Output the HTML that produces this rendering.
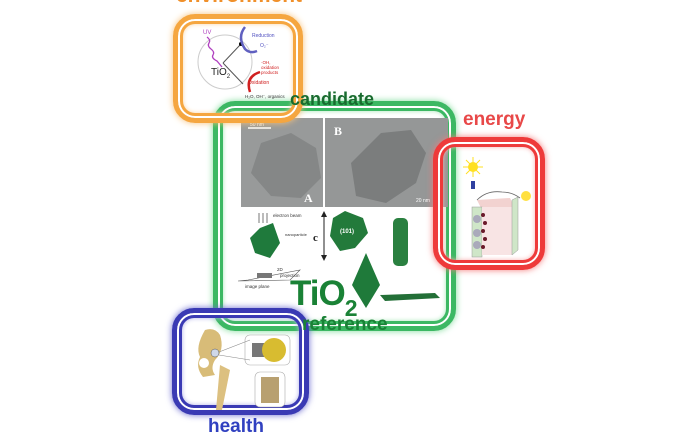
<!DOCTYPE html>
<html><head><style>
body{margin:0;width:700px;height:430px;background:#fff;position:relative;overflow:hidden;font-family:"Liberation Sans",sans-serif}
.b{position:absolute;border-radius:22px;box-sizing:border-box}
.lbl{position:absolute;font-weight:bold;white-space:nowrap}
.g{position:absolute}
</style></head><body>

<!-- green box -->
<div class="b" style="left:213px;top:101px;width:243px;height:230px;border:5px solid #3cb863;box-shadow:0 0 7px #7fdc9a,inset 0 0 0 2px #fff,inset 0 0 0 5px #3cb863,inset 0 0 5px 5px #a8e6b8"></div>

<!-- TEM images -->
<div class="g" style="left:241px;top:118px;width:82px;height:89px;background:#989a9a"></div>
<div class="g" style="left:325px;top:118px;width:123px;height:89px;background:#959797"></div>
<svg class="g" style="left:241px;top:118px" width="207" height="89">
<polygon points="20,25 50,15 75,30 80,60 60,80 30,78 10,55" fill="#858787"/>
<polygon points="110,45 140,15 170,12 185,35 175,65 145,85 115,78" fill="#7b7d7d"/>
<line x1="7" y1="10" x2="30" y2="10" stroke="#fff" stroke-width="1.5"/>
<text x="9" y="8" font-size="5" fill="#fff">50 nm</text>
<text x="93" y="17" font-size="12" fill="#fff" font-family="Liberation Serif" font-weight="bold">B</text>
<text x="63" y="84" font-size="12" fill="#fff" font-family="Liberation Serif" font-weight="bold">A</text>
<text x="175" y="84" font-size="5" fill="#fff">20 nm</text>
</svg>

<!-- lower crystal diagram -->
<svg class="g" style="left:235px;top:208px" width="215" height="100">
<g stroke="#555" stroke-width="0.8"><line x1="24" y1="5" x2="24" y2="15"/><line x1="28" y1="5" x2="28" y2="15"/><line x1="32" y1="5" x2="32" y2="15"/></g>
<text x="38" y="9" font-size="4.5" fill="#333">electron beam</text>
<polygon points="25,20 38,15 45,35 35,50 20,45 15,30" fill="#1f7a3c"/>
<text x="50" y="28" font-size="4" fill="#333">nanoparticle</text>
<text x="78" y="33" font-size="11" font-weight="bold" font-family="Liberation Serif" fill="#222">c</text>
<line x1="89" y1="5" x2="89" y2="50" stroke="#222" stroke-width="1"/>
<polygon points="89,3 86,9 92,9" fill="#222"/><polygon points="89,53 86,47 92,47" fill="#222"/>
<polygon points="98,10 110,3 128,10 133,25 120,40 105,43 95,28" fill="#237a3b"/>
<text x="105" y="25" font-size="6" fill="#fff" font-weight="bold">(101)</text>
<polygon points="131,45 145,77 131,100 117,77" fill="#1f7a3a"/>
<rect x="158" y="10" width="15" height="48" rx="5" fill="#2a8040"/>
<polygon points="145,87 200,85 205,90 150,93" fill="#236f37"/>
<polygon points="13,72 65,62 55,72 3,73" fill="none" stroke="#555" stroke-width="0.6"/>
<rect x="22" y="65" width="15" height="5" fill="#777"/>
<text x="42" y="63" font-size="4.5" fill="#333">2D</text>
<text x="45" y="69" font-size="4.5" fill="#333">projection</text>
<text x="10" y="80" font-size="4.5" fill="#333">image plane</text>
</svg>

<!-- orange box -->
<div class="b" style="left:173px;top:14px;width:130px;height:109px;border:5px solid #f5a640;box-shadow:0 0 7px #f8c27a,inset 0 0 0 2px #fff,inset 0 0 0 5px #f5a640,inset 0 0 5px 5px #fbd7a8"></div>
<svg class="g" style="left:185px;top:22px" width="115" height="80">
<circle cx="40" cy="40" r="27" fill="none" stroke="#ccc" stroke-width="1"/>
<text x="18" y="12" font-size="6" fill="#b040c0">UV</text>
<path d="M22,15 q4,3 2,6 q-2,3 2,6 q4,3 2,6 q-2,3 4,6 l5,6" fill="none" stroke="#b040c0" stroke-width="1.3"/>
<line x1="38" y1="41" x2="55" y2="23" stroke="#555" stroke-width="1"/>
<line x1="38" y1="41" x2="58" y2="62" stroke="#555" stroke-width="1"/>
<circle cx="56" cy="22" r="2" fill="#000"/>
<path d="M60,5 q-8,10 0,22 q5,5 12,2" fill="none" stroke="#6060c0" stroke-width="2.5"/>
<text x="67" y="15" font-size="5" fill="#5050c0">Reduction</text>
<text x="75" y="25" font-size="5" fill="#5050c0">O₂⁻</text>
<text x="26" y="53" font-size="10" fill="#222">TiO<tspan font-size="6" dy="3">2</tspan></text>
<path d="M75,50 q-15,5 -10,20" fill="none" stroke="#d02020" stroke-width="2.5"/>
<text x="76" y="42" font-size="4.5" fill="#d02020">·OH,</text>
<text x="76" y="47" font-size="4.5" fill="#d02020">oxidation</text>
<text x="76" y="52" font-size="4.5" fill="#d02020">products</text>
<text x="63" y="62" font-size="5" fill="#d02020">Oxidation</text>
<text x="60" y="76" font-size="4.5" fill="#333">H₂O, OH⁻, organics</text>
</svg>
<div class="lbl" style="left:176px;top:-16px;font-size:21px;color:#f0902a">environment</div>

<!-- red box -->
<div class="b" style="left:433px;top:137px;width:112px;height:133px;border:5px solid #ee3a3a;box-shadow:0 0 7px #f47a7a,inset 0 0 0 2px #fff,inset 0 0 0 5px #ee3a3a,inset 0 0 5px 5px #f8b0b0"></div>
<svg class="g" style="left:455px;top:155px" width="80" height="105">
<circle cx="18" cy="12" r="5" fill="#ffe020"/>
<g stroke="#ffe020" stroke-width="1"><line x1="18" y1="2" x2="18" y2="22"/><line x1="8" y1="12" x2="28" y2="12"/><line x1="11" y1="5" x2="25" y2="19"/><line x1="25" y1="5" x2="11" y2="19"/></g>
<rect x="16" y="26" width="4" height="8" fill="#3040a0"/>
<polygon points="22,45 55,43 60,53 27,55" fill="#f2d2d0"/>
<rect x="17" y="52" width="10" height="50" fill="#cfe6c8" stroke="#999" stroke-width="0.5"/>
<rect x="27" y="52" width="30" height="48" fill="#f8e4e4"/>
<polygon points="57,45 63,42 63,95 57,100" fill="#cfe6c8" stroke="#999" stroke-width="0.5"/>
<path d="M22,45 q10,-10 25,-8 q10,0 18,6" fill="none" stroke="#666" stroke-width="0.8"/>
<circle cx="71" cy="41" r="5" fill="#ffe040"/>
<g fill="#6a1a2a"><circle cx="28" cy="60" r="2"/><circle cx="30" cy="68" r="2"/><circle cx="28" cy="76" r="2"/><circle cx="30" cy="84" r="2"/><circle cx="28" cy="92" r="2"/></g>
<g fill="#aab"><circle cx="22" cy="64" r="4"/><circle cx="22" cy="78" r="4"/><circle cx="22" cy="90" r="4"/></g>
</svg>
<div class="lbl" style="left:463px;top:109px;font-size:19px;color:#e84848">energy</div>

<!-- blue box -->
<div class="b" style="left:172px;top:308px;width:137px;height:107px;border:5px solid #3a3ab4;box-shadow:0 0 7px #6a6ad0,inset 0 0 0 2px #fff,inset 0 0 0 5px #3a3ab4,inset 0 0 5px 5px #b0b0e8"></div>
<svg class="g" style="left:190px;top:325px" width="110" height="85">
<path d="M15,5 q10,-3 15,5 q5,15 -5,25 q-5,8 0,15 l-12,2 q-8,-10 -3,-20 q-5,-10 5,-27z" fill="#d8bc78"/>
<circle cx="14" cy="38" r="5" fill="#fff"/>
<path d="M30,40 l10,5 l-8,40 l-6,0 z" fill="#dcc080"/>
<circle cx="25" cy="28" r="4" fill="#cfd8e8" stroke="#555" stroke-width="0.5"/>
<rect x="55" y="10" width="45" height="30" rx="5" fill="#fff" stroke="#aaa" stroke-width="0.6"/>
<rect x="62" y="18" width="15" height="14" fill="#777"/>
<circle cx="84" cy="25" r="12" fill="#d8bc30"/>
<rect x="65" y="47" width="30" height="35" rx="5" fill="#fff" stroke="#aaa" stroke-width="0.6"/>
<rect x="71" y="52" width="18" height="26" fill="#b8a070"/>
<line x1="29" y1="27" x2="60" y2="15" stroke="#888" stroke-width="0.6"/>
<line x1="29" y1="30" x2="60" y2="35" stroke="#888" stroke-width="0.6"/>
</svg>
<div class="lbl" style="left:208px;top:416px;font-size:19px;color:#3040c0">health</div>

<div class="lbl" style="left:290px;top:89px;font-size:18px;color:#186b2e">candidate</div>
<div class="lbl" style="left:290px;top:274px;font-size:35px;color:#1a8236;letter-spacing:-1px">TiO<span style="font-size:23px;position:relative;top:11px">2</span></div>
<div class="lbl" style="left:302px;top:314px;font-size:19px;color:#1a8236">reference</div>
</body></html>
